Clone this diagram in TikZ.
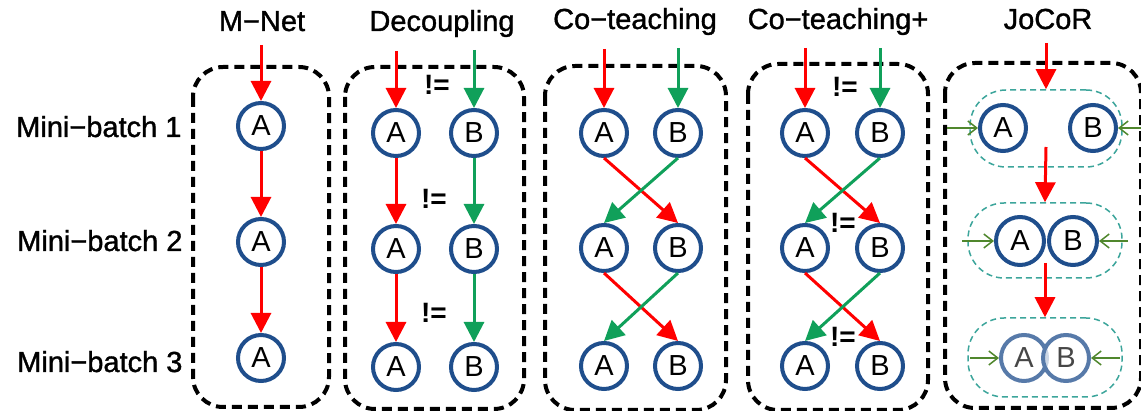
\documentclass[tikz,border=0pt]{standalone}
\usepackage{fontspec}
\setmainfont{Liberation Sans}
\newfontfamily\medfont{Liberation Sans}[FakeBold=1.2]
\usetikzlibrary{arrows.meta}
\definecolor{cred}{RGB}{255,0,0}
\definecolor{cgreen}{RGB}{16,160,90}
\definecolor{cblue}{RGB}{31,78,140}
\definecolor{cteal}{RGB}{60,165,155}
\definecolor{colive}{RGB}{80,135,45}
\begin{document}
\begin{tikzpicture}[x=1pt,y=-1pt,
  net/.style={circle,draw=cblue,line width=4pt,minimum size=46pt,inner sep=0pt,font=\fontsize{29}{30}\selectfont},
  frame/.style={draw=black,line width=4pt,dash pattern=on 10pt off 6pt,rounded corners=30pt},
  pill/.style={draw=cteal,line width=1.5pt,dash pattern=on 6pt off 4pt,rounded corners=36pt,inner sep=0pt},
  redarr/.style={draw=cred,line width=3pt,-{Triangle[length=20pt,width=20pt]}},
  grnarr/.style={draw=cgreen,line width=3pt,-{Triangle[length=20pt,width=20pt]}},
  side/.style={draw=colive,line width=1.5pt,-{Straight Barb[length=9pt,width=14pt]}},
  title/.style={font=\medfont\fontsize{29}{32}\selectfont,anchor=base},
  rowlab/.style={font=\medfont\fontsize{29}{32}\selectfont,anchor=base east},
  neq/.style={font=\bfseries\fontsize{28}{30}\selectfont,inner sep=0pt},
  ]
\useasboundingbox (0,0) rectangle (1141,411);
\clip (0,0) rectangle (1141,411);

% titles
\node[title] (t1) at (262,31) {M−Net};
\node[title] (t2) at (442,31) {Decoupling};
\node[title] (t3) at (635,29) {Co−teaching};
\node[title] (t4) at (838,29) {Co−teaching+};
\node[title] (t5) at (1048,29) {JoCoR};

% row labels
\node[rowlab] (r1) at (185,137) {Mini−batch 1};
\node[rowlab] (r2) at (186,251) {Mini−batch 2};
\node[rowlab] (r3) at (186,372) {Mini−batch 3};

% frames
\draw[frame] (193,67) rectangle (329,407);
\draw[frame] (345,67) rectangle (524,409);
\draw[frame] (545,66) rectangle (726,410);
\draw[frame] (748,64) rectangle (928,410);
\draw[frame] (945,63) rectangle (1141,408);

% ---------- M-Net
\node[net] (m1) at (261,126) {A};
\node[net] (m2) at (261,242) {A};
\node[net] (m3) at (261,358) {A};
\coordinate (m0) at (261,45);
\draw[redarr] (m0) -- (m1);
\draw[redarr] (m1) -- (m2);
\draw[redarr] (m2) -- (m3);

% ---------- Decoupling
\node[net] (da1) at (396,133) {A};
\node[net] (db1) at (474,133) {B};
\node[net] (da2) at (396,249) {A};
\node[net] (db2) at (474,249) {B};
\node[net] (da3) at (396,367) {A};
\node[net] (db3) at (474,367) {B};
\coordinate (da0) at (396,51);
\coordinate (db0) at (474,50);
\draw[redarr] (da0) -- (da1);
\draw[grnarr] (db0) -- (db1);
\draw[redarr] (da1) -- (da2);
\draw[grnarr] (db1) -- (db2);
\draw[redarr] (da2) -- (da3);
\draw[grnarr] (db2) -- (db3);
\node[neq] (dn1) at (437,85) {!=};
\node[neq] (dn2) at (434,199) {!=};
\node[neq] (dn3) at (434,313) {!=};

% ---------- Co-teaching
\node[net] (ca1) at (604,133) {A};
\node[net] (cb1) at (678,133) {B};
\node[net] (ca2) at (604,248) {A};
\node[net] (cb2) at (678,248) {B};
\node[net] (ca3) at (604,366) {A};
\node[net] (cb3) at (678,366) {B};
\coordinate (ca0) at (604,49);
\coordinate (cb0) at (678,48);
\draw[redarr] (ca0) -- (ca1);
\draw[grnarr] (cb0) -- (cb1);
\draw[redarr] (ca1.south) -- (cb2.north);
\draw[grnarr] (cb1.south) -- (ca2.north);
\draw[redarr] (ca2.south) -- (cb3.north);
\draw[grnarr] (cb2.south) -- (ca3.north);

% ---------- Co-teaching+
\node[net] (pa1) at (805,133) {A};
\node[net] (pb1) at (880,133) {B};
\node[net] (pa2) at (805,248) {A};
\node[net] (pb2) at (880,248) {B};
\node[net] (pa3) at (805,366) {A};
\node[net] (pb3) at (880,366) {B};
\coordinate (pa0) at (805,48);
\coordinate (pb0) at (880,48);
\draw[redarr] (pa0) -- (pa1);
\draw[grnarr] (pb0) -- (pb1);
\draw[redarr] (pa1.south) -- (pb2.north);
\draw[grnarr] (pb1.south) -- (pa2.north);
\draw[redarr] (pa2.south) -- (pb3.north);
\draw[grnarr] (pb2.south) -- (pa3.north);
\node[neq] (pn1) at (845,87) {!=};
\node[neq] (pn2) at (843,223) {!=};
\node[neq] (pn3) at (843,337) {!=};

% ---------- JoCoR
\node[pill,minimum width=152pt,minimum height=77pt] (j1) at (1046,128.5) {};
\node[pill,minimum width=154pt,minimum height=75pt] (j2) at (1045,240.5) {};
\node[pill,minimum width=154pt,minimum height=79pt] (j3) at (1045,357.5) {};
\node[net] (ja1) at (1003,128) {A};
\node[net] (jb1) at (1093,128) {B};
\node[net,minimum size=48pt] (ja2) at (1020,241) {A};
\node[net,minimum size=48pt] (jb2) at (1073,241) {B};
\node[net,minimum size=46pt,draw=cblue!75] (ja3) at (1024,358) {};
\node[net,minimum size=46pt,draw=cblue!75,fill=white,fill opacity=0.7] (jb3) at (1066,358) {};
\node[font=\fontsize{29}{30}\selectfont,text=black!72,inner sep=0pt] (jta) at (ja3) {A};
\node[font=\fontsize{29}{30}\selectfont,text=black!72,inner sep=0pt] (jtb) at (jb3) {B};
\coordinate (j0) at (1046,43);
\coordinate (j1s) at (1046,147);
\coordinate (j2s) at (1045,263);
\draw[redarr] (j0) -- (j1.north);
\draw[redarr] (j1s) -- (j2.north);
\draw[redarr] (j2s) -- (j3.north);
\coordinate (l1) at (947,128);
\coordinate (q1) at (1141,128);
\coordinate (l2) at (962,241);
\coordinate (q2) at (1128,241);
\coordinate (l3) at (970,358);
\coordinate (q3) at (1120,358);
\draw[side] (l1) -- (ja1.west);
\draw[side] (q1) -- (jb1.east);
\draw[side] (l2) -- (ja2.west);
\draw[side] (q2) -- (jb2.east);
\draw[side] (l3) -- (ja3.west);
\draw[side] (q3) -- (jb3.east);
\end{tikzpicture}
\end{document}
